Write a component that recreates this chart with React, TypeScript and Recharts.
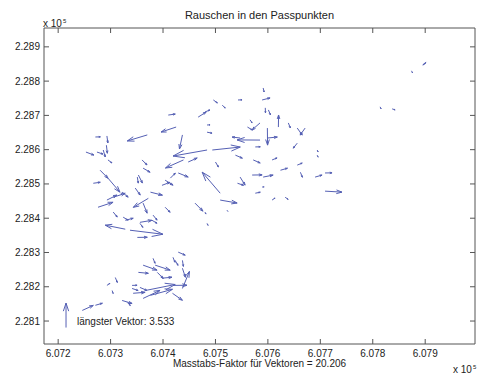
import React from 'react';
import { ComposedChart, XAxis, YAxis, ReferenceLine } from 'recharts';

const EAST_TICKS = [607200, 607300, 607400, 607500, 607600, 607700, 607800, 607900];
const NORTH_TICKS = [228100, 228200, 228300, 228400, 228500, 228600, 228700, 228800, 228900];

const SCALE_FACTOR = 20.206;
const LONGEST = 3.533;
const LONGEST_AT = { east: 607215, north: 228081 };

// Passpunkte (Rechtswert / Hochwert, m)
const east = [
  607271, 607293, 607292, 607253, 607274, 607286, 607295, 607280, 607295, 607267,
  607305, 607276, 607293, 607305, 607322, 607324, 607372, 607362, 607381, 607379,
  607356, 607328, 607337, 607351, 607328, 607356, 607404, 607461, 607410, 607467,
  607484, 607484, 607370, 607425, 607437, 607484, 607494, 607360, 607362, 607439,
  607448, 607429, 607509, 607500, 607353, 607347, 607376, 607404, 607414, 607351,
  607398, 607591, 607589, 607496, 607513, 607543, 607595, 607601, 607620, 607480,
  607566, 607561, 607585, 607639, 607656, 607671, 607656, 607547, 607585, 607599,
  607599, 607576, 607538, 607572, 607608, 607570, 607591, 607624, 607656, 607662,
  607690, 607709, 607694, 607694, 607547, 607709, 607509, 607608, 607633, 607576,
  607542, 607589, 607480, 607484, 607522, 607895, 607902, 607874, 607814, 607837,
  607429, 607419, 607437, 607381, 607362, 607353, 607389, 607398, 607437, 607437,
  607419, 607366, 607376, 607356, 607341, 607341, 607362, 607418, 607332, 607309,
  607293, 607303, 607246, 607271, 607322, 607385, 607423, 607343,
];
const north = [
  228637, 228640, 228613, 228593, 228593, 228599, 228570, 228540, 228517, 228502,
  228461, 228432, 228453, 228418, 228476, 228403, 228458, 228444, 228409, 228394,
  228385, 228368, 228365, 228344, 228394, 228388, 228432, 228444, 228701, 228695,
  228672, 228651, 228643, 228666, 228643, 228599, 228599, 228570, 228546, 228570,
  228564, 228532, 228473, 228564, 228526, 228488, 228476, 228511, 228517, 228520,
  228496, 228780, 228745, 228745, 228730, 228745, 228722, 228716, 228666, 228710,
  228687, 228666, 228678, 228678, 228663, 228663, 228619, 228634, 228628, 228663,
  228634, 228608, 228584, 228570, 228570, 228526, 228520, 228540, 228555, 228534,
  228520, 228532, 228599, 228584, 228520, 228479, 228453, 228453, 228461, 228473,
  228502, 228491, 228418, 228385, 228423, 228847, 228856, 228830, 228725, 228719,
  228301, 228286, 228277, 228283, 228263, 228242, 228242, 228225, 228254, 228195,
  228204, 228189, 228175, 228198, 228195, 228204, 228166, 228181, 228154, 228227,
  228204, 228189, 228131, 228146, 228160, 228263, 228277, 228181,
];

// Rauschen (m)
const noiseE = [
  0.47, 0.09, 0.09, 0.75, 0.57, 0.19, 0.38, 0.75, 1.13, 0.66,
  1.13, 1.42, 0.94, 0.38, 0.57, 0.47, -1.42, 0.38, 0.38, 0.47,
  0.28, -1.89, 3.11, 0.94, 0.75, 1.13, 0.47, 0.75, 0.66, 0.75,
  0.28, 0.47, -1.89, -1.42, -0.28, -3.21, 2.64, 0.47, 0.66, -1.7,
  0.85, 0.94, -1.7, 0.28, 0.38, 0.47, 1.13, 0.75, 0.47, 0.09,
  0.75, 0.09, 0.75, 0.38, 0.28, 0.38, 0.02, 0.19, 0.02, 0.47,
  0.19, 0.47, -0.75, 0.19, 0.47, -0.47, -0.38, -0.75, -2.17, 0.02,
  0.94, 0.47, 0.66, 0.66, 0.47, 0.94, 0.94, 0.66, 0.47, 0.19,
  0.66, 0.66, 0.09, 0.09, 0.47, 1.6, 1.6, 0.28, 0.28, 0.47,
  0.57, 0.19, 0.09, 0.09, 0.09, 0.28, -0.28, 0.09, 0.09, 0.28,
  0.66, 0.19, 0.09, 0.19, 1.32, 0.94, 0.57, 0.94, 0.28, 0.66,
  1.32, 2.83, 2.08, 0.66, 0.57, 0.47, 1.6, 0.94, 0.28, 0.19,
  0.28, 0.09, 1.04, 0.66, 0.94, 1.42, 0.28, 1.13,
];
const noiseN = [
  0.02, -1.01, -1.16, -0.43, -0.29, -1.01, -0.43, -1.16, -2.03, 0.14,
  0.58, 0.72, 0.72, -0.72, -0.72, -0.43, -1.3, -1.45, -0.72, -0.43,
  -0.58, 0.58, -0.58, 0.02, 0.29, 0.29, -0.72, -1.16, 0.14, 0.72,
  0.02, -0.14, -0.87, -0.72, -2.03, -0.87, 0.43, -0.72, -0.58, -1.16,
  0.58, -0.58, 3.04, -0.72, -1.16, -1.01, -0.43, -0.72, 0.72, -0.87,
  0.43, -0.58, 0.29, -0.43, -0.43, 0.02, -0.72, -0.72, 1.74, 0.29,
  -0.43, -0.43, -1.01, -0.72, -1.01, -1.01, -0.72, 0.14, 0.02, -2.46,
  0.14, 0.02, -0.43, -0.43, 0.29, 0.02, 0.29, 0.29, 0.29, -0.72,
  0.29, 0.02, -0.29, -0.29, -1.16, -0.14, -0.43, 0.29, -0.29, 0.14,
  -0.29, 0.02, -0.29, -0.29, -0.14, 0.29, -0.43, -0.29, -0.29, -0.14,
  -0.43, -0.72, -0.87, -0.72, -0.72, -0.14, -0.87, 0.14, -1.3, 2.46,
  0.02, 0.87, 0.87, -0.43, -0.29, 0.02, 1.16, -1.01, -0.43, -0.72,
  0.29, -0.43, 0.72, 0.29, -0.43, -0.72, -0.72, 0.14,
];

const ARROW_COLOR = '#5560b4';
const AXIS_COLOR = '#555';
const FONT = '"Liberation Sans", Arial, Helvetica, sans-serif';
const TICK_LEN = 5;
const X_GAP = 6;
const Y_GAP = 4;
const X_DOMAIN = [607173, 607995];
const Y_DOMAIN = [228033, 228955];

// chart frame
const WIDTH = 481;
const HEIGHT = 379;
const TOP_BAND = 28;
const RIGHT_BAND = 6;
const PLOT_TOP = TOP_BAND;
const PLOT_RIGHT = WIDTH - RIGHT_BAND;

const fmt = (v: number) => (v / 1e5).toFixed(3);

// quiver-style arrow, head = 1/3 of the shaft
const Arrow = (props: any) => {
  const { x1, y1, x2, y2 } = props;
  const dx = x2 - x1;
  const dy = y2 - y1;
  const a = 0.33;
  const b = 0.33;
  const hx1 = x2 - a * (dx + b * dy);
  const hy1 = y2 - a * (dy - b * dx);
  const hx2 = x2 - a * (dx - b * dy);
  const hy2 = y2 - a * (dy + b * dx);
  return (
    <path
      d={`M${x1},${y1}L${x2},${y2}M${hx1},${hy1}L${x2},${y2}L${hx2},${hy2}`}
      stroke={ARROW_COLOR}
      strokeWidth={1}
      fill="none"
    />
  );
};

// inward tick marks (MATLAB box style): bottom + matching top tick
const BottomTick = (p: any) => {
  const axisY = p.y - X_GAP;
  return (
    <g>
      <line x1={p.x} x2={p.x} y1={axisY} y2={axisY - TICK_LEN} stroke={AXIS_COLOR} />
      <line x1={p.x} x2={p.x} y1={PLOT_TOP} y2={PLOT_TOP + TICK_LEN} stroke={AXIS_COLOR} />
      <text x={p.x} y={p.y} dy="0.71em" textAnchor="middle" fontSize={10} fill="#222" fontFamily={FONT}>
        {fmt(p.payload.value)}
      </text>
    </g>
  );
};
// left + matching right tick
const LeftTick = (p: any) => {
  const axisX = p.x + Y_GAP;
  return (
    <g>
      <line x1={axisX} x2={axisX + TICK_LEN} y1={p.y} y2={p.y} stroke={AXIS_COLOR} />
      <line x1={PLOT_RIGHT} x2={PLOT_RIGHT - TICK_LEN} y1={p.y} y2={p.y} stroke={AXIS_COLOR} />
      <text x={p.x} y={p.y} dy="0.355em" textAnchor="end" fontSize={10} fill="#222" fontFamily={FONT}>
        {fmt(p.payload.value)}
      </text>
    </g>
  );
};

const App = () => {
  return (
    <div style={{ position: 'relative', width: WIDTH, height: HEIGHT, background: '#fff', fontFamily: FONT, color: '#222' }}>
      <style>{'body{margin:0}'}</style>
      <ComposedChart width={WIDTH} height={HEIGHT} margin={{ top: 0, right: 0, bottom: 0, left: 0 }}>
        <XAxis
          type="number"
          dataKey="x"
          domain={X_DOMAIN}
          allowDataOverflow
          ticks={EAST_TICKS}
          interval={0}
          height={35}
          tickSize={0}
          tickMargin={X_GAP}
          tickLine={false}
          stroke={AXIS_COLOR}
          tick={BottomTick}
        />
        <XAxis
          xAxisId="top"
          orientation="top"
          type="number"
          dataKey="x"
          domain={X_DOMAIN}
          allowDataOverflow
          height={TOP_BAND}
          tick={false}
          tickLine={false}
          stroke={AXIS_COLOR}
        />
        <YAxis
          type="number"
          dataKey="y"
          domain={Y_DOMAIN}
          allowDataOverflow
          ticks={NORTH_TICKS}
          interval={0}
          width={44}
          tickSize={0}
          tickMargin={Y_GAP}
          tickLine={false}
          stroke={AXIS_COLOR}
          tick={LeftTick}
        />
        <YAxis
          yAxisId="right"
          orientation="right"
          type="number"
          dataKey="y"
          domain={Y_DOMAIN}
          allowDataOverflow
          width={RIGHT_BAND}
          tick={false}
          tickLine={false}
          stroke={AXIS_COLOR}
        />
        {east.map((e, i) => (
          <ReferenceLine
            key={`v-${i}`}
            segment={[
              { x: e, y: north[i] },
              { x: e + noiseE[i] * SCALE_FACTOR, y: north[i] + noiseN[i] * SCALE_FACTOR },
            ]}
            ifOverflow="visible"
            shape={Arrow}
          />
        ))}
        <ReferenceLine
          segment={[
            { x: LONGEST_AT.east, y: LONGEST_AT.north },
            { x: LONGEST_AT.east, y: LONGEST_AT.north + LONGEST * SCALE_FACTOR },
          ]}
          ifOverflow="visible"
          shape={Arrow}
        />
      </ComposedChart>

      <div style={{ position: 'absolute', left: 0, width: 519, top: 10, fontSize: 11, lineHeight: '11px', textAlign: 'center' }}>
        Rauschen in den Passpunkten
      </div>
      <div style={{ position: 'absolute', left: 43, top: 16, fontSize: 10, lineHeight: '10px' }}>
        x 10<sup style={{ fontSize: 6, verticalAlign: 4, marginLeft: 1 }}>5</sup>
      </div>
      <div style={{ position: 'absolute', left: 77, top: 317, fontSize: 10, lineHeight: '10px' }}>
        längster Vektor: {LONGEST.toFixed(3)}
      </div>
      <div style={{ position: 'absolute', left: 0, width: 519, top: 359, fontSize: 10, lineHeight: '10px', textAlign: 'center' }}>
        Masstabs-Faktor für Vektoren = {SCALE_FACTOR.toFixed(3)}
      </div>
      <div style={{ position: 'absolute', left: 453, top: 362, fontSize: 10, lineHeight: '10px' }}>
        x 10<sup style={{ fontSize: 6, verticalAlign: 4, marginLeft: 1 }}>5</sup>
      </div>
    </div>
  );
};

export default App;
